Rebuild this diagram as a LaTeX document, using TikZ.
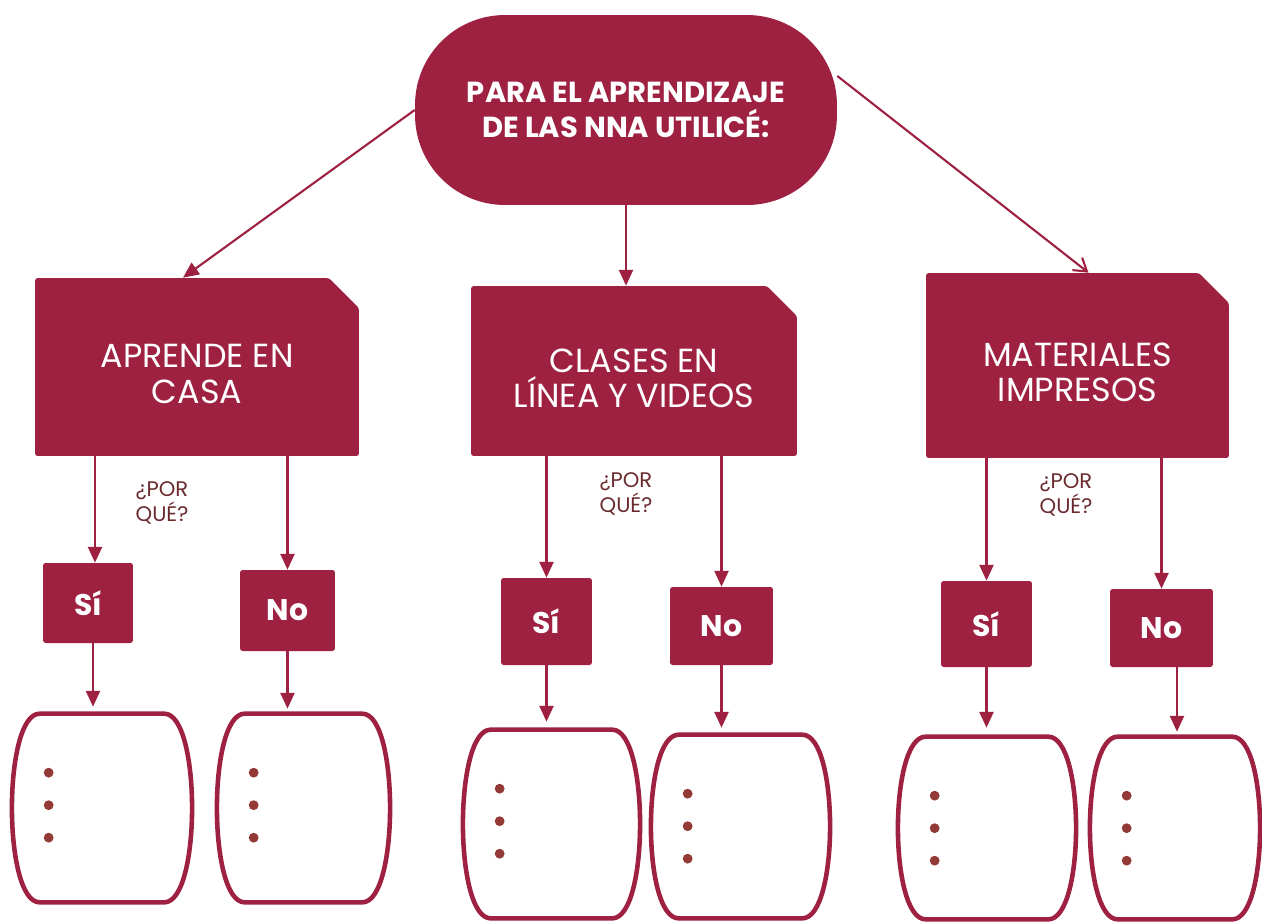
\documentclass[tikz,border=0pt]{standalone}
\usepackage{fontspec}
\setmainfont{Poppins}
\usetikzlibrary{arrows.meta,calc}

\definecolor{vino}{HTML}{9E2142}
\definecolor{punto}{HTML}{943A36}
\definecolor{porque}{HTML}{6B2B2E}

\tikzset{
  titulo/.style={fill=vino, text=white, rounded corners=1.8cm, minimum width=8.44cm,
    minimum height=3.8cm, align=center, font=\bfseries\fontsize{16.5}{19.5}\selectfont},
  opcion/.style={rectangle, inner sep=0pt,
    path picture={\fill[vino, rounded corners=1.5pt] (path picture bounding box.south west)
      -- (path picture bounding box.north west)
      -- ($(path picture bounding box.north east)+(-30,0)$)
      -- ($(path picture bounding box.north east)+(0,30)$)
      -- (path picture bounding box.south east) -- cycle;}},
  opciontxt/.style={text=white, align=center, font=\fontsize{19}{20}\selectfont, yshift=-0.14cm},
  resp/.style={fill=vino, text=white, rounded corners=1.5pt, inner sep=0pt,
    font=\bfseries\fontsize{17}{20}\selectfont},
  porque/.style={text=porque, align=left, font=\fontsize{12}{13.8}\selectfont},
  hueco/.style={inner sep=0pt},
  flecha/.style={vino, line width=1.2pt, -{Triangle[length=9pt,width=8pt]}},
  flechaab/.style={vino, line width=1.2pt, -{Straight Barb[length=7pt,width=9pt]}},
  barrilline/.style={vino, line width=2.6pt}
}

% barrel shaped box around an empty node
\newcommand\barril[1]{%
  \draw[barrilline] ($(#1.north west)+(28,0)$) -- ($(#1.north east)+(-28,0)$)
    .. controls ($(#1.north east)+(9,0)$) and ($(#1.south east)+(9,0)$) .. ($(#1.south east)+(-28,0)$)
    -- ($(#1.south west)+(28,0)$)
    .. controls ($(#1.south west)+(-9,0)$) and ($(#1.north west)+(-9,0)$) .. cycle;}

\begin{document}
\begin{tikzpicture}[x=0.02cm, y=-0.02cm]
  \useasboundingbox (0,0) rectangle (1262,921);

  % title
  \node[titulo] (tit) at (626,110) {PARA EL APRENDIZAJE\\DE LAS NNA UTILICÉ:};

  % the three options
  \node[opcion, minimum width=6.48cm, minimum height=3.56cm,
    label={[opciontxt]center:APRENDE EN\\CASA}] (casa) at (197,367) {};
  \node[opcion, minimum width=6.52cm, minimum height=3.4cm,
    label={[opciontxt]center:CLASES EN\\LÍNEA Y VIDEOS}] (linea) at (634,371) {};
  \node[opcion, minimum width=6.06cm, minimum height=3.7cm,
    label={[opciontxt]center:MATERIALES\\IMPRESOS}] (impr) at (1077.5,365.5) {};

  \draw[flecha] (tit.west) -- ([xshift=-0.28cm]casa.north);
  \draw[flecha] (tit.south) -- (tit.south |- linea.north);
  \draw[flechaab] ([yshift=0.68cm]tit.east) -- ([xshift=0.22cm]impr.north);

  % why?
  \node[porque] (pq1) at (162,503) {¿POR\\QUÉ?};
  \node[porque] (pq2) at (626,494) {¿POR\\QUÉ?};
  \node[porque] (pq3) at (1066,495) {¿POR\\QUÉ?};

  % yes / no
  \node[resp, minimum width=1.8cm, minimum height=1.6cm] (si1) at (88,603) {Sí};
  \node[resp, minimum width=1.9cm, minimum height=1.62cm] (no1) at (287.5,610.5) {No};
  \node[resp, minimum width=1.82cm, minimum height=1.74cm] (si2) at (546.5,621.5) {Sí};
  \node[resp, minimum width=2.06cm, minimum height=1.56cm] (no2) at (721.5,626) {No};
  \node[resp, minimum width=1.82cm, minimum height=1.72cm] (si3) at (986.5,624) {Sí};
  \node[resp, minimum width=2.06cm, minimum height=1.56cm] (no3) at (1161.5,628) {No};

  \draw[flecha] ([xshift=0.14cm]si1.north |- casa.south) -- ([xshift=0.14cm]si1.north);
  \draw[flecha] (no1.north |- casa.south) -- (no1.north);
  \draw[flecha] (si2.north |- linea.south) -- (si2.north);
  \draw[flecha] (no2.north |- linea.south) -- (no2.north);
  \draw[flecha] (si3.north |- impr.south) -- (si3.north);
  \draw[flecha] (no3.north |- impr.south) -- (no3.north);

  % answer boxes
  \node[hueco, minimum width=3.6cm, minimum height=3.76cm] (b1) at (102,808) {};
  \node[hueco, minimum width=3.46cm, minimum height=3.76cm] (b2) at (303.5,808) {};
  \node[hueco, minimum width=3.54cm, minimum height=3.76cm] (b3) at (551.5,824) {};
  \node[hueco, minimum width=3.58cm, minimum height=3.66cm] (b4) at (740.5,826.5) {};
  \node[hueco, minimum width=3.56cm, minimum height=3.64cm] (b5) at (987,828) {};
  \node[hueco, minimum width=3.4cm, minimum height=3.64cm] (b6) at (1175,828) {};

  \draw[flecha, shorten >=0.14cm] ([xshift=0.1cm]si1.south) -- ([xshift=0.1cm]si1.south |- b1.north);
  \draw[flecha, shorten >=0.1cm] (no1.south) -- (no1.south |- b2.north);
  \draw[flecha, shorten >=0.16cm] (si2.south) -- (si2.south |- b3.north);
  \draw[flecha, shorten >=0.14cm] (no2.south) -- (no2.south |- b4.north);
  \draw[flecha, shorten >=0.18cm] (si3.south) -- (si3.south |- b5.north);
  \draw[flecha, shorten >=0.1cm] ([xshift=0.31cm]no3.south) -- ([xshift=0.31cm]no3.south |- b6.north);

  \foreach \b in {b1,b2,b3,b4,b5,b6} {
    \barril{\b}
    \foreach \k in {0,1,2}
      \fill[punto] ($(\b.north west)+(37,59+32.5*\k)$) circle (2.8pt);
  }
\end{tikzpicture}
\end{document}
